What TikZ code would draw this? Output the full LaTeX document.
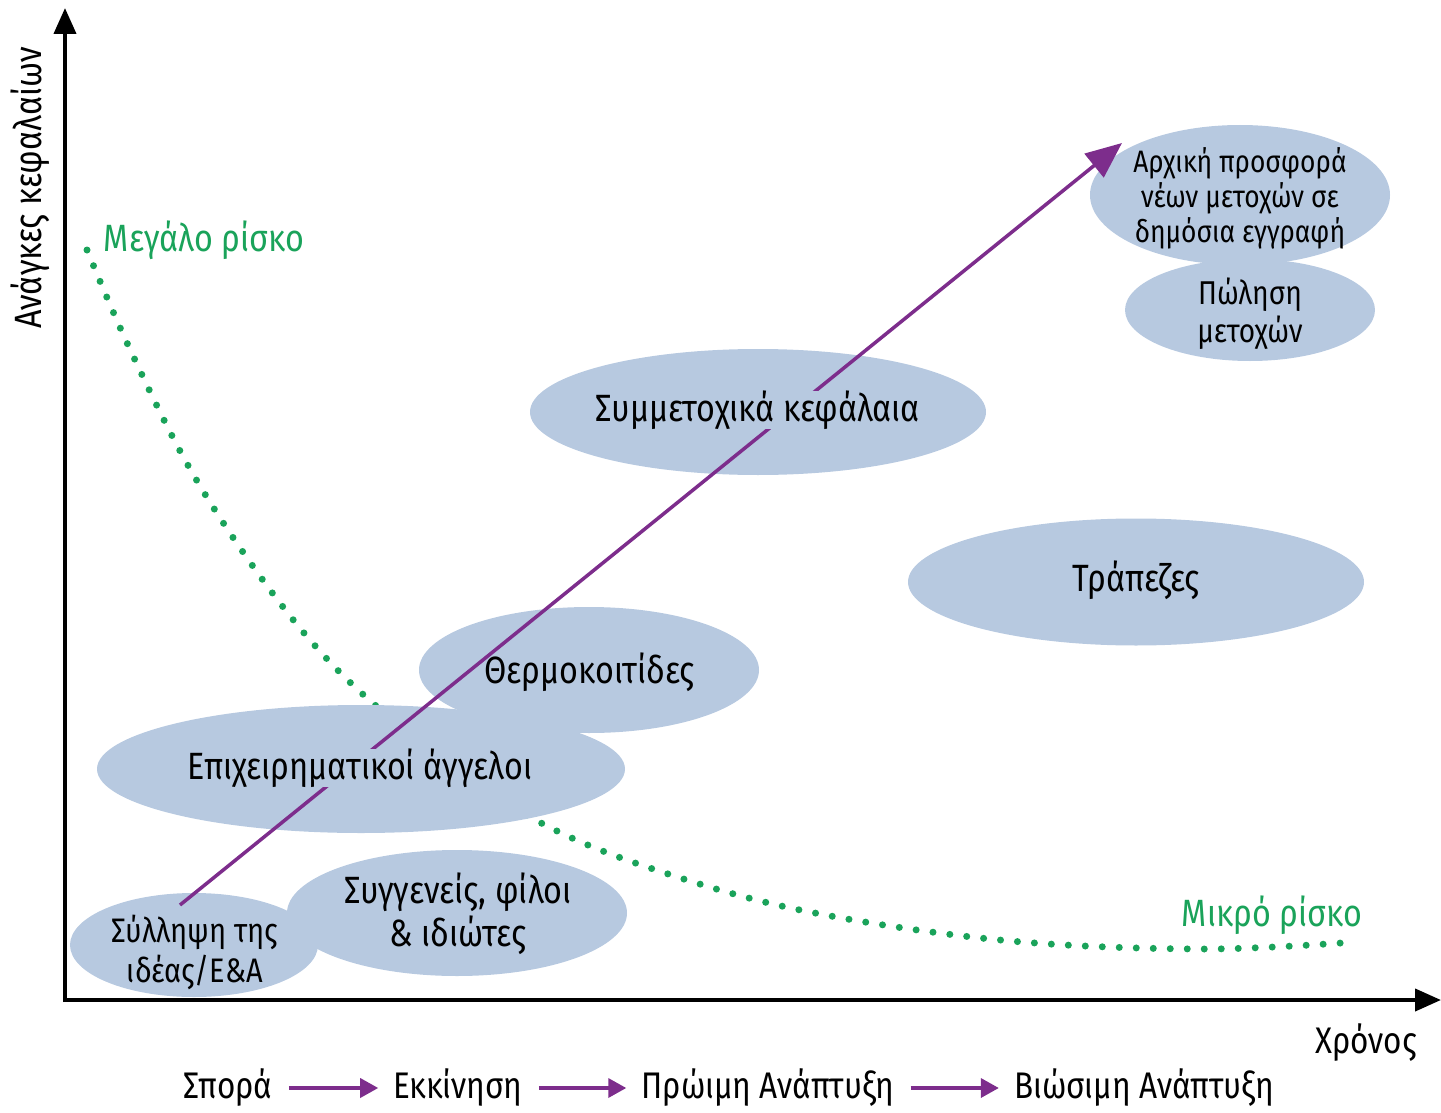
\documentclass[tikz,border=0pt]{standalone}
\usepackage{fontspec}
\setmainfont{Fira Sans}[FakeStretch=0.85]
\usetikzlibrary{arrows.meta,shapes.geometric}
\definecolor{ell}{RGB}{183,201,224}
\definecolor{grn}{RGB}{26,163,90}
\definecolor{prp}{RGB}{125,45,140}
\begin{document}
\begin{tikzpicture}[x=1pt,y=-1pt,
  blob/.style={ellipse, fill=ell, inner sep=0pt},
  lbl/.style={inner sep=0pt, align=center, font=\fontsize{38}{44}\selectfont},
  cover/.style={lbl, fill=ell},
  plain/.style={inner sep=0pt, align=center, font=\fontsize{37}{42}\selectfont},
  risk/.style={inner sep=0pt, text=grn, font=\fontsize{38}{42}\selectfont},
  stagearrow/.style={prp, line width=3.5pt, -{Triangle[length=18pt,width=19pt]}, shorten <=16pt, shorten >=15pt}]
\useasboundingbox (0,0) rectangle (1441,1113);
% dotted risk curve
\draw[grn, line width=7pt, line cap=round, dash pattern=on 0pt off 17pt]
  plot[smooth, tension=0.6] coordinates {(87,250) (128,345) (185,460) (245,555) (310,640) (375,705) (460,770) (545,825) (650,868) (800,910) (1000,940) (1200,949) (1355,942)};
% ellipses
\node[blob, minimum width=248pt, minimum height=104pt] (idea) at (194,945) {};
\node[blob, minimum width=340pt, minimum height=126pt] (fam) at (457,913) {};
\node[blob, minimum width=528pt, minimum height=128pt] (ang) at (361,769) {};
\node[blob, minimum width=340pt, minimum height=126pt] (inc) at (589,670) {};
\node[blob, minimum width=456pt, minimum height=126pt] (vc) at (758,412) {};
\node[blob, minimum width=456pt, minimum height=127pt] (bank) at (1136,582) {};
\node[blob, minimum width=300pt, minimum height=140pt] (ipo) at (1240,195) {};
\node[blob, minimum width=250pt, minimum height=102pt] (sale) at (1250,310) {};
% axes
\coordinate (ybot) at (65,1002);
\coordinate (ytop) at (65,8);
\coordinate (xbeg) at (63,1000);
\coordinate (xend) at (1441,1000);
\draw[line width=4pt, -{Triangle[length=26pt,width=22pt]}] (ybot) -- (ytop);
\draw[line width=4pt, -{Triangle[length=26pt,width=22pt]}] (xbeg) -- (xend);
% growth arrow
\coordinate (gs) at (180,905);
\coordinate (ge) at (1122,143);
\draw[prp, line width=3.5pt, -{Triangle[length=36pt,width=30pt]}] (gs) -- (ge);
% ellipse labels
\node[lbl, font=\fontsize{34}{40}\selectfont] (tidea) at (195,952) {Σύλληψη της\\ιδέας/Ε\&Α};
\node[lbl, font=\fontsize{38}{43}\selectfont] (tfam) at (458,914) {Συγγενείς, φίλοι\\\& ιδιώτες};
\node[cover] (tang) at (360,768) {Επιχειρηματικοί άγγελοι};
\node[lbl] (tinc) at (590,672) {Θερμοκοιτίδες};
\node[cover] (tvc) at (758,410) {Συμμετοχικά κεφάλαια};
\node[lbl] (tbank) at (1136,580) {Τράπεζες};
\node[lbl, font=\fontsize{31}{35}\selectfont] (tipo) at (1240,198) {Αρχική προσφορά\\νέων μετοχών σε\\δημόσια εγγραφή};
\node[lbl, font=\fontsize{33}{38}\selectfont] (tsale) at (1250,314) {Πώληση\\μετοχών};
% axis labels
\node[plain, rotate=90, font=\fontsize{38}{42}\selectfont] (ylab) at (30,188) {Ανάγκες κεφαλαίων};
\node[risk] (hi) at (204,240) {Μεγάλο ρίσκο};
\node[risk] (lo) at (1272,915) {Μικρό ρίσκο};
\node[plain] (time) at (1366,1043) {Χρόνος};
% stages
\node[plain] (s1) at (228,1088) {Σπορά};
\node[plain] (s2) at (458,1088) {Εκκίνηση};
\node[plain] (s3) at (768,1088) {Πρώιμη Ανάπτυξη};
\node[plain] (s4) at (1144,1088) {Βιώσιμη Ανάπτυξη};
\draw[stagearrow] (s1.east) -- (s2.west);
\draw[stagearrow] (s2.east) -- (s3.west);
\draw[stagearrow] (s3.east) -- (s4.west);
\end{tikzpicture}
\end{document}
